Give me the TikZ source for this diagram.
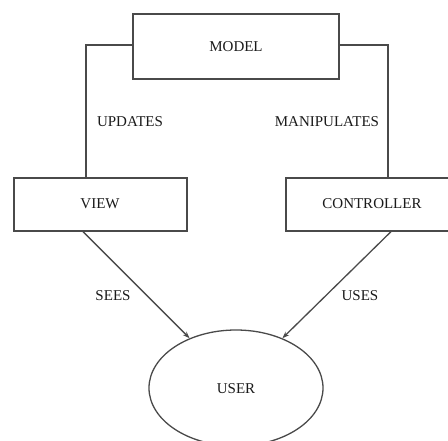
\documentclass[tikz,border=0pt]{standalone}
\usepackage{fontspec}
\setmainfont{Liberation Serif}
\usetikzlibrary{shapes.geometric,arrows.meta,calc}
\definecolor{ln}{HTML}{4A4A4A}
\definecolor{tx}{HTML}{1A1A1A}
\begin{document}
\begin{tikzpicture}[x=1pt,y=-1pt,
  every node/.style={font=\fontsize{15}{18}\selectfont, text=tx},
  box/.style={draw=ln, line width=1.3pt, rectangle, inner sep=0pt},
  conn/.style={draw=ln, line width=1.3pt},
  arr/.style={conn, -{Stealth[length=7pt,width=5pt]}},
  lbl/.style={inner sep=0pt}]
\useasboundingbox (0,0) rectangle (448,441);
\clip (0,0) rectangle (448,441);
\fill[white] (0,0) rectangle (448,441);
\node[box, minimum width=206pt, minimum height=65pt] (model) at (236,46.5) {MODEL};
\node[box, minimum width=173pt, minimum height=53pt] (view) at (100.5,204.5) {};
\node[lbl] (viewt) at (100,204) {VIEW};
\node[box, minimum width=180pt, minimum height=53pt] (ctrl) at (376,204.5) {};
\node[lbl] (ctrlt) at (372,204) {CONTROLLER};
\node[draw=ln, line width=1.3pt, ellipse, minimum width=174pt, minimum height=116pt, inner sep=0pt] (user) at (236,388) {};
\node[lbl] (usert) at (236,389) {USER};
\coordinate (lc) at (86,45);
\coordinate (rc) at (388,45);
\draw[conn] (lc -| model.west) -- (lc) -- (lc |- view.north);
\draw[conn] (rc -| model.east) -- (rc) -- (rc |- ctrl.north);
\draw[arr] ([xshift=-17.5pt]view.south) -- (user.133);
\draw[arr] ([xshift=15pt]ctrl.south) -- (user.47);
\node[lbl] (upd) at (130,122) {UPDATES};
\node[lbl] (man) at (327,122) {MANIPULATES};
\node[lbl] (sees) at (113,296) {SEES};
\node[lbl] (uses) at (360,296) {USES};
\end{tikzpicture}
\end{document}
